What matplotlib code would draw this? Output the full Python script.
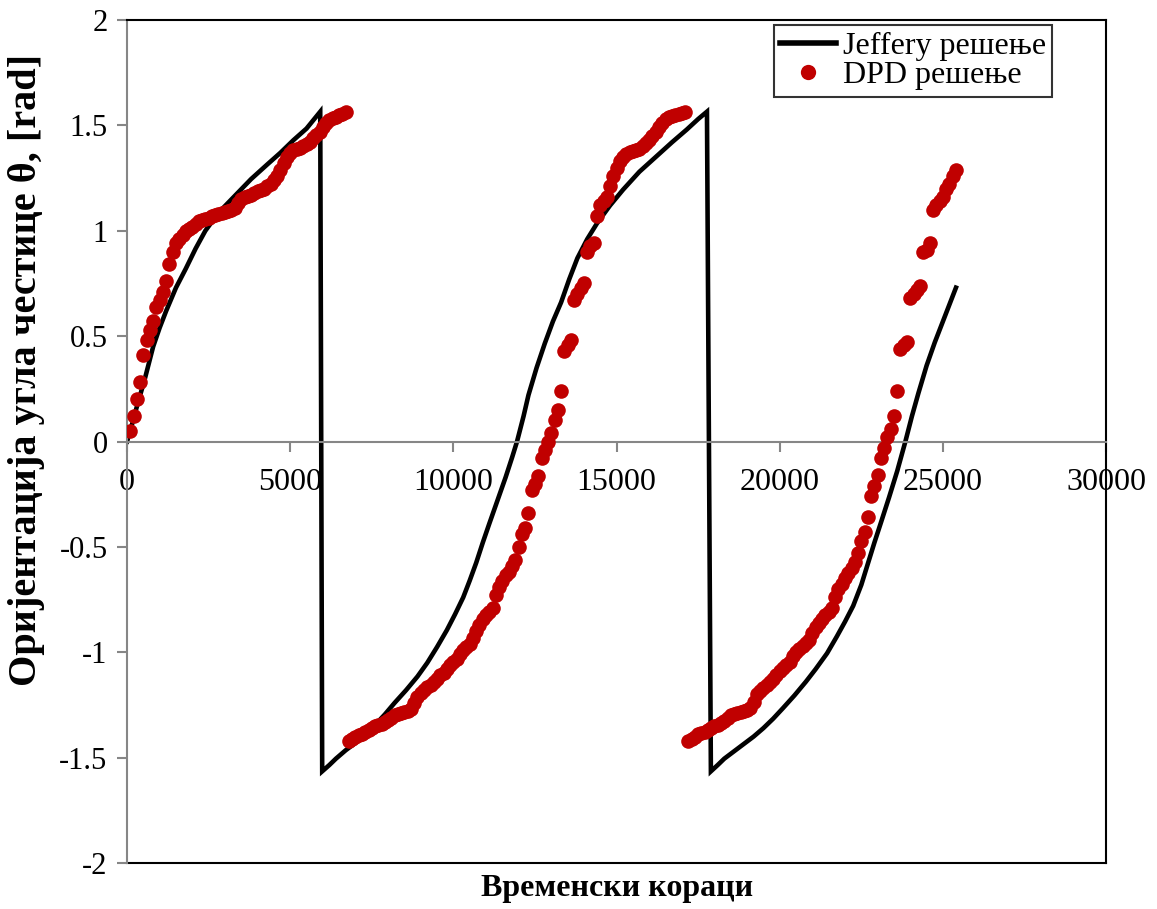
import numpy as np
import matplotlib
matplotlib.use("Agg")
import matplotlib.pyplot as plt
from matplotlib.lines import Line2D

plt.rcParams['font.family'] = ['Liberation Serif', 'DejaVu Serif']

# Jeffery analytical orbit (with the two flips)
jeffery_x = [0, 150, 300, 550, 800, 1000, 1200, 1500, 1800, 2100, 2400, 2800, 3300, 3800, 4300, 4700,
             5100, 5500, 5920,
             5980, 6200, 6400, 6700, 7000, 7300, 7600, 7900, 8200, 8550, 8900, 9200, 9500, 9800, 10050,
             10300, 10500, 10700, 10900, 11100, 11350, 11600, 11800, 11950, 12150, 12300, 12550, 12800,
             13050, 13300, 13550, 13800, 14100, 14400, 14800, 15200, 15700, 16200, 16700, 17150, 17500,
             17770,
             17890, 18100, 18300, 18600, 18900, 19200, 19500, 19800, 20100, 20450, 20800, 21100, 21450,
             21750, 22000, 22250, 22500, 22700, 22900, 23100, 23350, 23600, 23850, 24050, 24250, 24500,
             24750, 25000, 25200, 25400]
jeffery_y = [0.0, 0.08, 0.165, 0.30, 0.45, 0.54, 0.62, 0.73, 0.82, 0.915, 1.0, 1.085, 1.165, 1.245, 1.315,
             1.37, 1.43, 1.485, 1.565,
             -1.565, -1.535, -1.505, -1.465, -1.43, -1.39, -1.345, -1.295, -1.24, -1.18, -1.115, -1.05,
             -0.975, -0.895, -0.82, -0.74, -0.66, -0.575, -0.48, -0.39, -0.28, -0.17, -0.075, 0.0, 0.12,
             0.22, 0.35, 0.465, 0.57, 0.66, 0.77, 0.87, 0.96, 1.035, 1.12, 1.195, 1.28, 1.35, 1.42, 1.48,
             1.53, 1.565,
             -1.565, -1.535, -1.505, -1.47, -1.435, -1.40, -1.36, -1.315, -1.265, -1.205, -1.14, -1.08,
             -1.005, -0.925, -0.855, -0.78, -0.68, -0.58, -0.48, -0.385, -0.265, -0.14, 0.0, 0.12, 0.23,
             0.36, 0.47, 0.57, 0.65, 0.73]

# DPD simulation, one sample every 100 steps
dpd_steps_1 = np.arange(100, 6800, 100)
dpd_theta_1 = [0.05, 0.12, 0.20, 0.28, 0.41, 0.48, 0.53, 0.57, 0.64, 0.67,
               0.71, 0.76, 0.84, 0.90, 0.94, 0.96, 0.98, 1.00, 1.01, 1.02,
               1.03, 1.045, 1.05, 1.055, 1.06, 1.07, 1.075, 1.08, 1.085, 1.09,
               1.095, 1.10, 1.11, 1.13, 1.15, 1.16, 1.165, 1.17, 1.18, 1.19,
               1.195, 1.20, 1.21, 1.22, 1.24, 1.26, 1.29, 1.32, 1.35, 1.37,
               1.385, 1.39, 1.395, 1.40, 1.41, 1.42, 1.44, 1.455, 1.47, 1.49,
               1.51, 1.525, 1.535, 1.54, 1.55, 1.555, 1.565]

dpd_steps_2 = np.arange(6800, 17200, 100)
dpd_theta_2 = [-1.42, -1.41, -1.40, -1.395, -1.39, -1.38, -1.37, -1.36, -1.35, -1.345,
               -1.34, -1.33, -1.32, -1.31, -1.30, -1.295, -1.29, -1.285, -1.28, -1.27,
               -1.24, -1.21, -1.195, -1.18, -1.165, -1.155, -1.14, -1.125, -1.11, -1.10,
               -1.08, -1.06, -1.045, -1.03, -1.01, -0.99, -0.975, -0.96, -0.93, -0.90,
               -0.87, -0.84, -0.825, -0.81, -0.79, -0.73, -0.69, -0.66, -0.635, -0.62,
               -0.59, -0.56, -0.50, -0.44, -0.41, -0.34, -0.23, -0.20, -0.165, -0.08,
               -0.04, 0.00, 0.04, 0.10, 0.15, 0.24, 0.43, 0.46, 0.48, 0.67,
               0.70, 0.73, 0.75, 0.90, 0.93, 0.94, 1.07, 1.12, 1.14, 1.16,
               1.21, 1.26, 1.30, 1.33, 1.35, 1.365, 1.375, 1.38, 1.385, 1.39,
               1.40, 1.415, 1.43, 1.45, 1.47, 1.49, 1.51, 1.53, 1.54, 1.545,
               1.55, 1.555, 1.56, 1.565]

dpd_steps_3 = np.arange(17200, 25500, 100)
dpd_theta_3 = [-1.42, -1.41, -1.40, -1.39, -1.385, -1.38, -1.37, -1.36, -1.35, -1.345,
               -1.335, -1.325, -1.31, -1.30, -1.295, -1.29, -1.285, -1.28, -1.275, -1.265,
               -1.235, -1.20, -1.185, -1.17, -1.155, -1.14, -1.125, -1.11, -1.09, -1.075,
               -1.06, -1.045, -1.02, -1.00, -0.985, -0.97, -0.955, -0.94, -0.91, -0.88,
               -0.86, -0.84, -0.825, -0.81, -0.79, -0.74, -0.70, -0.675, -0.65, -0.625,
               -0.60, -0.57, -0.53, -0.47, -0.43, -0.36, -0.26, -0.21, -0.16, -0.08,
               -0.03, 0.02, 0.06, 0.12, 0.24, 0.44, 0.46, 0.47, 0.68, 0.70,
               0.72, 0.74, 0.90, 0.91, 0.94, 1.10, 1.12, 1.14, 1.16, 1.20,
               1.22, 1.26, 1.29]

x_ticks = [0, 5000, 10000, 15000, 20000, 25000, 30000]
y_ticks = [-2, -1.5, -1, -0.5, 0, 0.5, 1, 1.5, 2]
y_ticklabels = ['-2', '-1.5', '-1', '-0.5', '0', '0.5', '1', '1.5', '2']

red = '#C00000'
grey = '#868686'

fig = plt.figure(figsize=(11.57, 9.09), dpi=100)
ax = fig.add_axes([0.1098, 0.0506, 0.8462, 0.9274])

ax.plot(jeffery_x, jeffery_y, color='black', lw=3.3, solid_joinstyle='miter', zorder=2)
dpd_x = np.concatenate([dpd_steps_1, dpd_steps_2, dpd_steps_3])
dpd_y = dpd_theta_1 + dpd_theta_2 + dpd_theta_3
ax.plot(dpd_x, dpd_y, 'o', color=red, markersize=10.5, markeredgewidth=0, zorder=3)

ax.set_xlim(0, 30000)
ax.set_ylim(-2, 2)
ax.set_xticks(x_ticks)
ax.set_yticks(y_ticks)
ax.set_yticklabels(y_ticklabels)

# x axis crosses at y = 0, grey axes lines, black plot-area border
ax.spines['bottom'].set_position(('data', 0))
ax.spines['bottom'].set_color(grey)
ax.spines['bottom'].set_linewidth(1.5)
ax.spines['left'].set_color(grey)
ax.spines['left'].set_linewidth(1.5)
ax.spines['top'].set_color('black')
ax.spines['right'].set_color('black')
ax.spines['top'].set_linewidth(1.5)
ax.spines['right'].set_linewidth(1.5)
ax.plot([0, 1], [0, 0], transform=ax.transAxes, color='black', lw=1.5, clip_on=False, zorder=1)

ax.tick_params(axis='both', direction='out', length=7, width=1.5, color=grey,
               labelsize=22, pad=7)
ax.tick_params(axis='x', pad=12, labelsize=23)

ax.set_xlabel('Временски кораци', fontsize=23, fontweight='bold')
ax.xaxis.set_label_coords(0.5, -0.013)
ax.set_ylabel('Оријентација угла честице θ, [rad]', fontsize=29, fontweight='bold')
ax.yaxis.set_label_coords(-0.084, 0.585)

handles = [Line2D([], [], color='black', lw=4),
           Line2D([], [], color=red, marker='o', ls='none', markersize=11, markeredgewidth=0)]
leg = ax.legend(handles, ['Jeffery решење', 'DPD решење'], loc='upper right',
                bbox_to_anchor=(0.945, 0.994), borderaxespad=0, fontsize=23,
                fancybox=False, frameon=True, handlelength=1.75, handletextpad=0.2,
                labelspacing=0.0, borderpad=0.2)
leg.get_frame().set_edgecolor('black')
leg.get_frame().set_linewidth(1.5)

fig.savefig('out.png', dpi=100)
